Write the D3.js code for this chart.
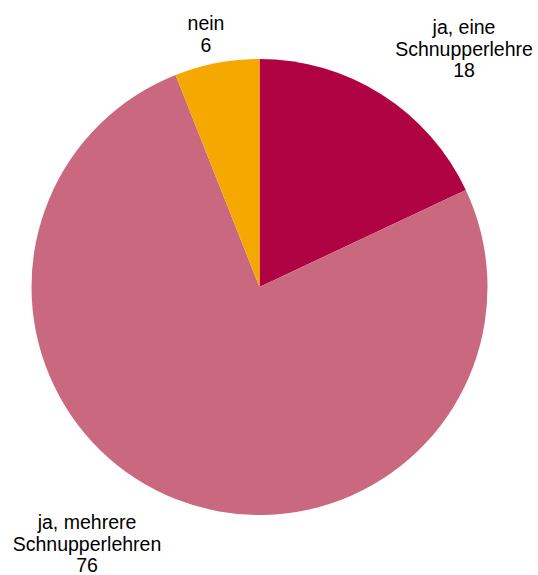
<!DOCTYPE html>
<html>
<head>
<meta charset="utf-8">
<script src="https://cdn.jsdelivr.net/npm/d3@7"></script>
<style>
  body { margin: 0; background: #fff; }
  text { font-family: "Liberation Sans", Arial, sans-serif; fill: #000; }
</style>
</head>
<body>
<svg id="chart" width="538" height="575"></svg>
<script>
const width = 538;
const height = 575;

// data
const labels = [['ja, eine', 'Schnupperlehre'], ['ja, mehrere', 'Schnupperlehren'], ['nein']];
const values = [18, 76, 6];
const colors = ['#AF0343', '#C9687F', '#F5A800'];
// label anchors: centre x, first baseline
const labelPos = [[464, 34], [87, 529], [206, 30]];

const svg = d3.select('#chart');
const cx = 259.5, cy = 287, radius = 228;

const pie = d3.pie().sort(null).value((d) => d)(values);
const arc = d3.arc().innerRadius(0).outerRadius(radius);

const graph = svg.append('g').attr('transform', `translate(${cx}, ${cy})`);

graph.selectAll('path')
  .data(pie)
  .enter()
  .append('path')
  .attr('d', arc)
  .attr('fill', (d, i) => colors[i]);

const lineH = 21.5;
const fontSize = 19.5;

svg.selectAll('.label')
  .data(pie)
  .enter()
  .append('text')
  .attr('class', 'label')
  .attr('text-anchor', 'middle')
  .attr('font-size', fontSize)
  .each(function (d, i) {
    const lines = labels[i].concat([String(values[i])]);
    const t = d3.select(this);
    lines.forEach((line, j) => {
      t.append('tspan')
        .attr('x', labelPos[i][0])
        .attr('y', labelPos[i][1] + j * lineH)
        .text(line);
    });
  });
</script>
</body>
</html>
